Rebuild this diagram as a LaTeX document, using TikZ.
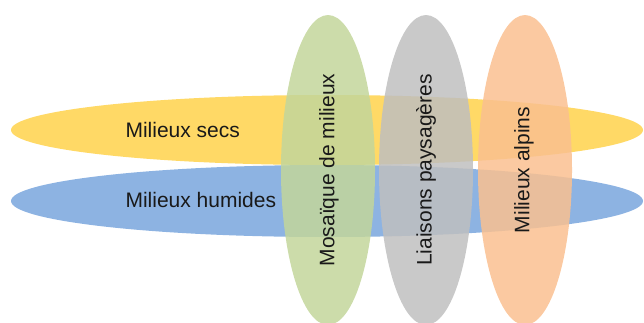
\documentclass[tikz,border=0pt]{standalone}
\usepackage{fontspec}
\setmainfont{Liberation Sans}
\begin{document}
\begin{tikzpicture}[x=1pt,y=-1pt,
  lbl/.style={font=\fontsize{21}{24}\selectfont, text=black!90},
  vell/.style={draw=none, fill opacity=0.85}]
\useasboundingbox (0,0) rectangle (644,322);
\definecolor{cyel}{HTML}{FFD966}
\definecolor{cblu}{HTML}{8DB3E2}
\definecolor{cgrn}{HTML}{C3D69B}
\definecolor{cgry}{HTML}{BFBFBF}
\definecolor{corg}{HTML}{FAC090}
% horizontal ellipses
\fill[cyel] (327,130) ellipse [x radius=316, y radius=35];
\fill[cblu] (327,201) ellipse [x radius=316, y radius=36];
\node[lbl, anchor=west] (secs) at (122,130) {Milieux secs};
\node[lbl, anchor=west] (hum) at (122,200) {Milieux humides};
% vertical ellipses
\fill[cgrn, vell] (328,170) ellipse [x radius=47, y radius=155];
\fill[cgry, vell] (426,170) ellipse [x radius=47, y radius=155];
\fill[corg, vell] (525,170) ellipse [x radius=47, y radius=155];
\node[lbl, rotate=90] (mos) at (329,170) {Mosaïque de milieux};
\node[lbl, rotate=90] (lia) at (426,170) {Liaisons paysagères};
\node[lbl, rotate=90] (alp) at (524,170) {Milieux alpins};
\end{tikzpicture}
\end{document}
